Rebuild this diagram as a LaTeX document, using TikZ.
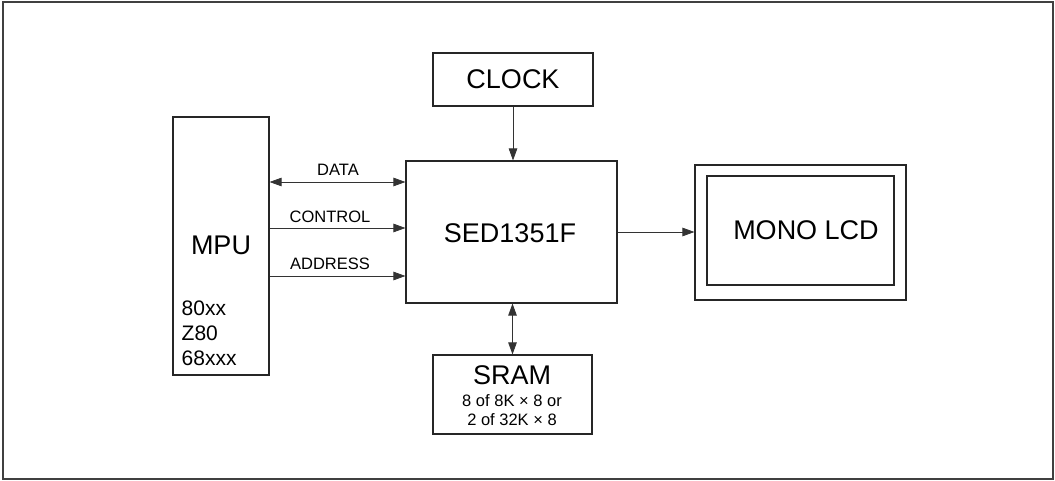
\documentclass[tikz,border=0pt]{standalone}
\usepackage{fontspec}
\setmainfont{Liberation Sans}
\usetikzlibrary{arrows.meta}
\begin{document}
\begin{tikzpicture}[x=1pt,y=-1pt,
  box/.style={draw=black!85,line width=1.1pt},
  conn/.style={draw=black!80,line width=0.8pt},
  tip/.style={-{Triangle[length=12pt,width=8.5pt]}},
  dtip/.style={{Triangle[length=12pt,width=8.5pt]}-{Triangle[length=12pt,width=8.5pt]}},
  big/.style={font=\fontsize{27}{31}\selectfont},
  small/.style={font=\fontsize{16.5}{19}\selectfont,inner sep=0.5pt},
  mid/.style={font=\fontsize{21}{25}\selectfont,inner sep=0.5pt}]
\useasboundingbox (0,0) rectangle (1055,481);
\draw[draw=black!75,line width=1.2pt] (3,2) rectangle (1053,479);
% boxes
\node[box,minimum width=96pt,minimum height=258pt,inner sep=0pt] (mpu) at (221,246) {};
\node[big] (mputxt) at (221,245) {MPU};
\node[mid,anchor=west] (c1) at (181,308) {80xx};
\node[mid,anchor=west] (c2) at (181,333) {Z80};
\node[mid,anchor=west] (c3) at (181,358) {68xxx};
\node[box,minimum width=211pt,minimum height=142pt,inner sep=0pt] (sed) at (511.5,232) {};
\node[big] (sedtxt) at (510,233) {SED1351F};
\node[box,minimum width=160pt,minimum height=53pt,inner sep=0pt,big] (clk) at (513,79.5) {CLOCK};
\node[box,minimum width=159pt,minimum height=79pt,inner sep=0pt] (sram) at (512.5,394.5) {};
\node[big,inner sep=0.5pt] (sramt) at (512,375) {SRAM};
\node[small] (s1) at (512,401) {8 of 8K × 8 or};
\node[small] (s2) at (512,419.5) {2 of 32K × 8};
\node[box,minimum width=211pt,minimum height=135pt,inner sep=0pt] (lcdo) at (800.5,232.5) {};
\node[box,minimum width=187pt,minimum height=109pt,inner sep=0pt] (lcdi) at (800.5,230.5) {};
\node[big] (lcdt) at (806,230) {MONO LCD};
% connectors
\coordinate (d1) at (mpu.east |- 0,182); \coordinate (d2) at (sed.west |- 0,182);
\coordinate (k1) at (mpu.east |- 0,228); \coordinate (k2) at (sed.west |- 0,228);
\coordinate (a1) at (mpu.east |- 0,276); \coordinate (a2) at (sed.west |- 0,276);
\draw[conn,dtip] (d1) -- (d2);
\draw[conn,tip] (k1) -- (k2);
\draw[conn,tip] (a1) -- (a2);
\node[small] (ld) at (338,170) {DATA};
\node[small] (lc) at (330,217) {CONTROL};
\node[small] (la) at (330,264) {ADDRESS};
\draw[conn,tip] (clk.south) -- (sed.north -| clk.south);
\draw[conn,dtip] (sed.south -| sram.north) -- (sram.north);
\draw[conn,tip] (sed.east |- 0,232) -- (lcdo.west |- 0,232);
\end{tikzpicture}
\end{document}
